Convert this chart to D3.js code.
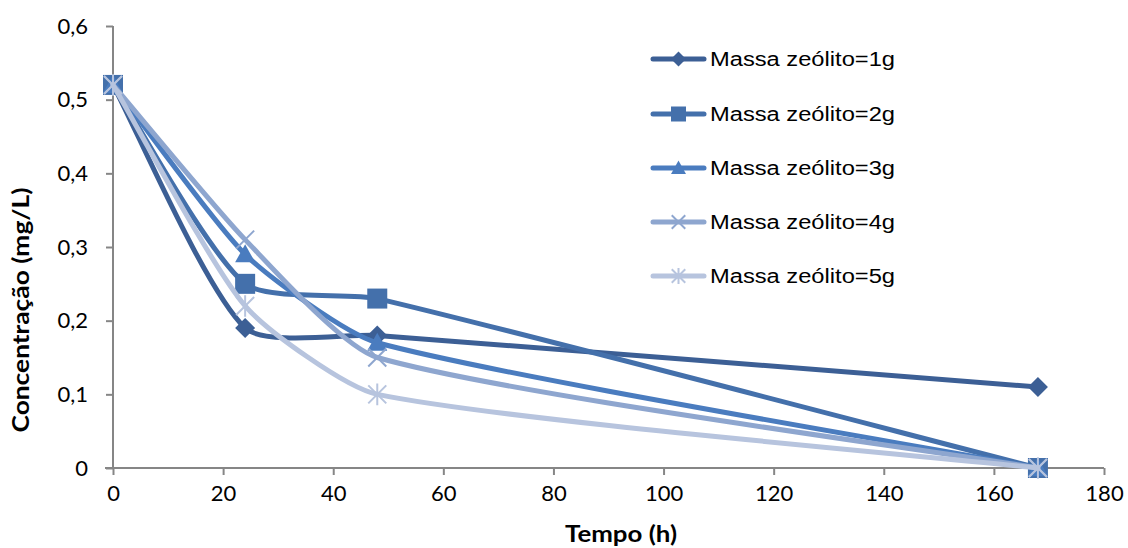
<!DOCTYPE html>
<html>
<head>
<meta charset="utf-8">
<script src="https://cdn.jsdelivr.net/npm/d3@7"></script>
<style>
  html, body { margin: 0; padding: 0; background: #fff; }
  svg { display: block; }
</style>
</head>
<body>
<svg id="chart" width="1128" height="548"></svg>
<script>
// Tempo (h) em que as amostras foram coletadas
const tempos = [0, 24, 48, 168];

// Concentração (mg/L) para cada massa de zeólito
const massa1g = [0.52, 0.19, 0.18, 0.11];
const massa2g = [0.52, 0.25, 0.23, 0.00];
const massa3g = [0.52, 0.29, 0.17, 0.00];
const massa4g = [0.52, 0.31, 0.15, 0.00];
const massa5g = [0.52, 0.22, 0.10, 0.00];

const seriesNames = [
  "Massa zeólito=1g",
  "Massa zeólito=2g",
  "Massa zeólito=3g",
  "Massa zeólito=4g",
  "Massa zeólito=5g"
];

const xTicks = [0, 20, 40, 60, 80, 100, 120, 140, 160, 180];
const yTicks = [0, 0.1, 0.2, 0.3, 0.4, 0.5, 0.6];

const seriesValues = [massa1g, massa2g, massa3g, massa4g, massa5g];
const colors = ["#3C5F95", "#4470AB", "#4A7CBF", "#8EA6CF", "#B7C4DE"];
const markers = ["diamond", "square", "triangle", "cross", "star"];

const svg = d3.select("#chart");
const margin = { left: 113, right: 24, top: 26, bottom: 80 };
const W = 1128, H = 548;

const x = d3.scaleLinear().domain([0, 180]).range([margin.left, W - margin.right]);
const y = d3.scaleLinear().domain([0, 0.6]).range([H - margin.bottom, margin.top]);

const axisColor = "#868686";
const tickFont = "Lato, 'Open Sans', sans-serif";

// Eixo X
const gx = svg.append("g")
  .attr("transform", `translate(0,${y(0)})`)
  .call(d3.axisBottom(x).tickValues(xTicks).tickSize(7).tickPadding(10).tickFormat(d3.format("d")));
gx.select(".domain").remove();
gx.selectAll(".tick line").attr("stroke", axisColor).attr("stroke-width", 2);
gx.selectAll(".tick text")
  .attr("fill", "#000").style("font-family", tickFont).style("font-size", "22px");
svg.append("line")
  .attr("x1", x(0) - 8).attr("x2", x(180))
  .attr("y1", y(0)).attr("y2", y(0))
  .attr("stroke", axisColor).attr("stroke-width", 2);

// Eixo Y
const gy = svg.append("g")
  .attr("transform", `translate(${x(0)},0)`)
  .call(d3.axisLeft(y).tickValues(yTicks).tickSize(7).tickPadding(18)
    .tickFormat(d => d === 0 ? "0" : d3.format(".1f")(d).replace(".", ",")));
gy.select(".domain").remove();
gy.selectAll(".tick line").attr("stroke", axisColor).attr("stroke-width", 2);
gy.selectAll(".tick text")
  .attr("fill", "#000").style("font-family", tickFont).style("font-size", "22px");
svg.append("line")
  .attr("x1", x(0)).attr("x2", x(0))
  .attr("y1", y(0.6)).attr("y2", y(0))
  .attr("stroke", axisColor).attr("stroke-width", 2);

// Títulos dos eixos
svg.append("text")
  .attr("x", 621).attr("y", 542)
  .attr("text-anchor", "middle")
  .attr("textLength", 112).attr("lengthAdjust", "spacingAndGlyphs")
  .style("font-family", tickFont).style("font-weight", "bold").style("font-size", "22px")
  .text("Tempo (h)");
svg.append("text")
  .attr("transform", `translate(29,${310}) rotate(-90)`)
  .attr("text-anchor", "middle")
  .attr("textLength", 245).attr("lengthAdjust", "spacingAndGlyphs")
  .style("font-family", tickFont).style("font-weight", "bold").style("font-size", "22px")
  .text("Concentração (mg/L)");

// Marcadores
function drawMarker(g, type, cx, cy, color, k = 1) {
  if (type === "diamond") {
    const s = 10 * k;
    g.append("path").attr("d", `M${cx},${cy - s}L${cx + s},${cy}L${cx},${cy + s}L${cx - s},${cy}Z`)
      .attr("fill", color);
  } else if (type === "square") {
    const s = 10 * k;
    g.append("rect").attr("x", cx - s).attr("y", cy - s).attr("width", 2 * s).attr("height", 2 * s)
      .attr("fill", color);
  } else if (type === "triangle") {
    const s = 10 * k;
    g.append("path").attr("d", `M${cx},${cy - s}L${cx + s},${cy + s * 0.8}L${cx - s},${cy + s * 0.8}Z`)
      .attr("fill", color);
  } else if (type === "cross") {
    const s = 9 * k;
    g.append("path").attr("d", `M${cx - s},${cy - s}L${cx + s},${cy + s}M${cx - s},${cy + s}L${cx + s},${cy - s}`)
      .attr("stroke", color).attr("stroke-width", 2).attr("fill", "none");
  } else if (type === "star") {
    const s = 9 * k;
    g.append("path").attr("d",
      `M${cx - s},${cy - s}L${cx + s},${cy + s}M${cx - s},${cy + s}L${cx + s},${cy - s}M${cx},${cy - s * 1.2}L${cx},${cy + s * 1.2}`)
      .attr("stroke", color).attr("stroke-width", 2).attr("fill", "none");
  }
}

// Curva suavizada: Bézier cúbica com tangentes de Catmull-Rom e braços
// limitados pelo comprimento de cada segmento
function smoothPath(pts) {
  const n = pts.length;
  const tangents = pts.map((pt, i) => {
    const a = pts[Math.max(i - 1, 0)], b = pts[Math.min(i + 1, n - 1)];
    const tx = b[0] - a[0], ty = b[1] - a[1];
    const len = Math.hypot(tx, ty) || 1;
    return { ux: tx / len, uy: ty / len, len };
  });
  const p = d3.path();
  p.moveTo(pts[0][0], pts[0][1]);
  for (let i = 0; i < n - 1; i++) {
    const p0 = pts[i], p1 = pts[i + 1];
    const d = Math.hypot(p1[0] - p0[0], p1[1] - p0[1]);
    const t0 = tangents[i], t1 = tangents[i + 1];
    const a0 = Math.min(t0.len / 6, d / 5);
    const a1 = Math.min(t1.len / 6, d / 5);
    p.bezierCurveTo(
      p0[0] + t0.ux * a0, p0[1] + t0.uy * a0,
      p1[0] - t1.ux * a1, p1[1] - t1.uy * a1,
      p1[0], p1[1]);
  }
  return p.toString();
}

const plot = svg.append("g");
seriesValues.forEach((vals, i) => {
  const pts = tempos.map((t, j) => [x(t), y(vals[j])]);
  const g = plot.append("g");
  g.append("path")
    .attr("d", smoothPath(pts))
    .attr("fill", "none")
    .attr("stroke", colors[i])
    .attr("stroke-width", 5)
    .attr("stroke-linecap", "round");
  pts.forEach(p => drawMarker(g, markers[i], p[0], p[1], colors[i]));
});

// Legenda
const legendRows = [59, 114, 168, 222, 276];
const legend = svg.append("g");
seriesNames.forEach((name, i) => {
  const cy = legendRows[i];
  legend.append("line")
    .attr("x1", 653).attr("x2", 704).attr("y1", cy).attr("y2", cy)
    .attr("stroke", colors[i]).attr("stroke-width", 5).attr("stroke-linecap", "round");
  drawMarker(legend, markers[i], 678.5, cy, colors[i], 0.75);
  legend.append("text")
    .attr("x", 710).attr("y", cy + 7)
    .attr("textLength", 185).attr("lengthAdjust", "spacingAndGlyphs")
    .style("font-family", "'Liberation Sans', Arial, sans-serif")
    .style("font-size", "20px")
    .attr("fill", "#000")
    .text(name);
});
</script>
</body>
</html>
